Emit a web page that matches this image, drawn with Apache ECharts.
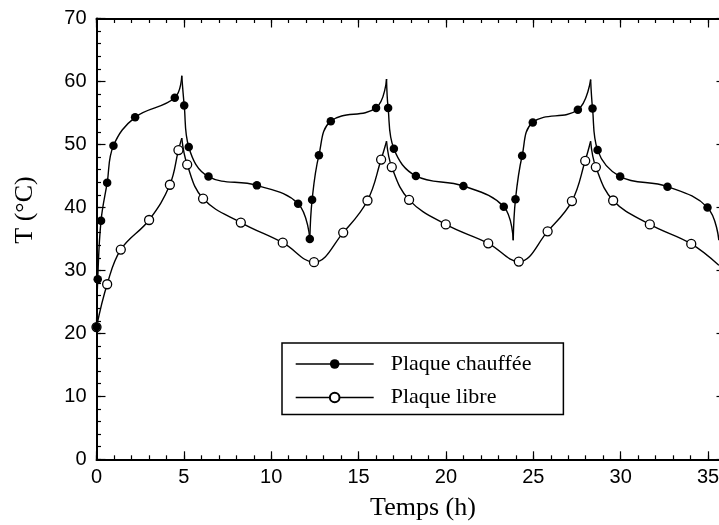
<!DOCTYPE html>
<html>
<head>
<meta charset="utf-8">
<script src="https://cdn.jsdelivr.net/npm/echarts@6/dist/echarts.min.js"></script>
<style>html,body{margin:0;padding:0;background:#fff;}#c{width:719px;height:525px;}</style>
</head>
<body>
<div id="c"></div>
<script>
// ---- data ----
const xTicksMajor = 5;
const yTicksMajor = 10;
const xName = 'Temps (h)';
const yName = 'T (°C)';
const seriesNames = ['Plaque chauffée', 'Plaque libre'];

// measured points (with markers): [time h, temperature °C]
const heatedMarks = [
  [0.00,21.0],[0.07,28.6],[0.26,37.9],[0.61,43.9],[0.97,49.8],[2.21,54.3],[4.48,57.4],
  [5.02,56.2],[5.28,49.6],[6.41,44.9],[9.18,43.5],[11.54,40.6],[12.21,35.0],[12.34,41.2],
  [12.73,48.3],[13.41,53.7],[16.00,55.8],[16.69,55.8],[17.02,49.3],[18.28,45.0],[21.00,43.4],
  [23.31,40.1],[23.98,41.3],[24.36,48.2],[24.97,53.5],[27.55,55.5],[28.39,55.7],[28.68,49.1],
  [29.97,44.9],[32.68,43.3],[34.97,40.0]
];
// curve vertices without markers (peaks / valleys / end)
const heatedVertices = [[4.88,60.9],[16.60,60.4],[23.85,34.8],[28.28,60.3],[35.62,34.8]];
// times where the curve has a sharp corner
const heatedCorners = [4.88,12.21,16.60,23.85,28.28];

const freeMarks = [
  [0.00,21.0],[0.61,27.8],[1.39,33.3],[3.01,38.0],[4.20,43.6],[4.69,49.1],[5.19,46.8],
  [6.10,41.4],[8.26,37.6],[10.66,34.4],[12.45,31.3],[14.12,36.0],[15.51,41.1],[16.29,47.6],
  [16.90,46.4],[17.89,41.2],[19.99,37.3],[22.42,34.3],[24.17,31.4],[25.82,36.2],[27.21,41.0],
  [27.97,47.4],[28.58,46.4],[29.57,41.1],[31.67,37.3],[34.04,34.2]
];
const freeVertices = [[4.88,51.0],[16.60,50.5],[28.28,50.5],[35.62,30.8]];
const freeCorners = [4.88,16.60,28.28];

// ---- build ----
function buildCurve(marks, vertices) {
  return marks.concat(vertices).sort((a, b) => a[0] - b[0]);
}
function splitAt(curve, corners) {
  const segs = []; let cur = [];
  curve.forEach(p => {
    cur.push(p);
    if (corners.indexOf(p[0]) >= 0 && cur.length > 1) { segs.push(cur); cur = [p]; }
  });
  if (cur.length > 1) segs.push(cur);
  return segs;
}
const heatedSegs = splitAt(buildCurve(heatedMarks, heatedVertices), heatedCorners);
const freeSegs = splitAt(buildCurve(freeMarks, freeVertices), freeCorners);

const lineStyle = {color: '#000', width: 1.4};
function segSeries(name, segs) {
  return segs.map(s => ({
    name: name, type: 'line', data: s, smooth: 0.4, symbol: 'none', showSymbol: false,
    lineStyle: lineStyle, z: 2, silent: true, emphasis: {disabled: true}
  }));
}

const series = [
  {name: seriesNames[0], type: 'line', data: heatedMarks, symbol: 'circle', symbolSize: 8.5,
   showAllSymbol: true, itemStyle: {color: '#000'}, lineStyle: {width: 0, opacity: 0},
   z: 5, silent: true, emphasis: {disabled: true}},
  {name: seriesNames[1], type: 'line', data: freeMarks, symbol: 'circle', symbolSize: 9,
   showAllSymbol: true, itemStyle: {color: '#fff', borderColor: '#000', borderWidth: 1.3},
   lineStyle: {width: 0, opacity: 0}, z: 4, silent: true, emphasis: {disabled: true}}
].concat(segSeries(seriesNames[0], heatedSegs), segSeries(seriesNames[1], freeSegs));

const axisFont = {fontFamily: '"Liberation Sans", Arial, sans-serif', fontSize: 20, color: '#000'};
const serif = '"Liberation Serif", "Times New Roman", serif';

function xAx(pos, interval, len, showLine, showLabel) {
  return {type: 'value', position: pos, min: 0, max: 36, interval: interval,
    axisLine: {show: showLine, onZero: false, lineStyle: {color: '#000', width: 2}},
    axisTick: {show: true, inside: true, length: len, lineStyle: {color: '#000', width: 1.2}},
    axisLabel: Object.assign({show: showLabel, margin: 8, showMaxLabel: false}, axisFont),
    splitLine: {show: false}};
}
function yAx(pos, interval, len, showLine, showLabel) {
  return {type: 'value', position: pos, min: 0, max: 70, interval: interval,
    axisLine: {show: showLine, onZero: false, lineStyle: {color: '#000', width: 2}},
    axisTick: {show: true, inside: true, length: len, lineStyle: {color: '#000', width: 1.2}},
    axisLabel: Object.assign({show: showLabel, margin: 10}, axisFont),
    splitLine: {show: false}};
}

const chart = echarts.init(document.getElementById('c'), null, {renderer: 'canvas'});
chart.setOption({
  animation: false,
  backgroundColor: '#fff',
  grid: {left: 96.5, top: 18.5, right: -6.5, bottom: 65.7, containLabel: false, outerBoundsMode: 'none'},
  xAxis: [
    xAx('bottom', xTicksMajor, 8, true, true),
    xAx('bottom', 1, 4, false, false),
    xAx('top', xTicksMajor, 9, true, false),
    xAx('top', 1, 4.5, false, false)
  ],
  yAxis: [
    yAx('left', yTicksMajor, 9, true, true),
    yAx('left', 2, 4.5, false, false),
    yAx('right', yTicksMajor, 9, true, false),
    yAx('right', 2, 4.5, false, false)
  ],
  legend: {
    data: seriesNames, orient: 'vertical', left: 282, top: 343,
    padding: [9, 32, 5, 13], itemGap: 9.5, itemWidth: 78, itemHeight: 12,
    borderColor: '#000', borderWidth: 1.5, borderRadius: 0,
    lineStyle: {color: '#000', width: 1.4, opacity: 1, type: 'solid'},
    textStyle: {fontFamily: serif, fontSize: 22, color: '#000', lineHeight: 24, padding: [0, 0, 0, 12]},
    selectedMode: false
  },
  graphic: [
    {type: 'text', x: 423, y: 508, style: {text: xName, font: '26px ' + serif, fill: '#000', align: 'center', verticalAlign: 'middle'}},
    {type: 'text', x: 25, y: 210, rotation: Math.PI / 2, style: {text: yName, font: '26px ' + serif, fill: '#000', align: 'center', verticalAlign: 'middle'}}
  ],
  series: series
});
</script>
</body>
</html>
